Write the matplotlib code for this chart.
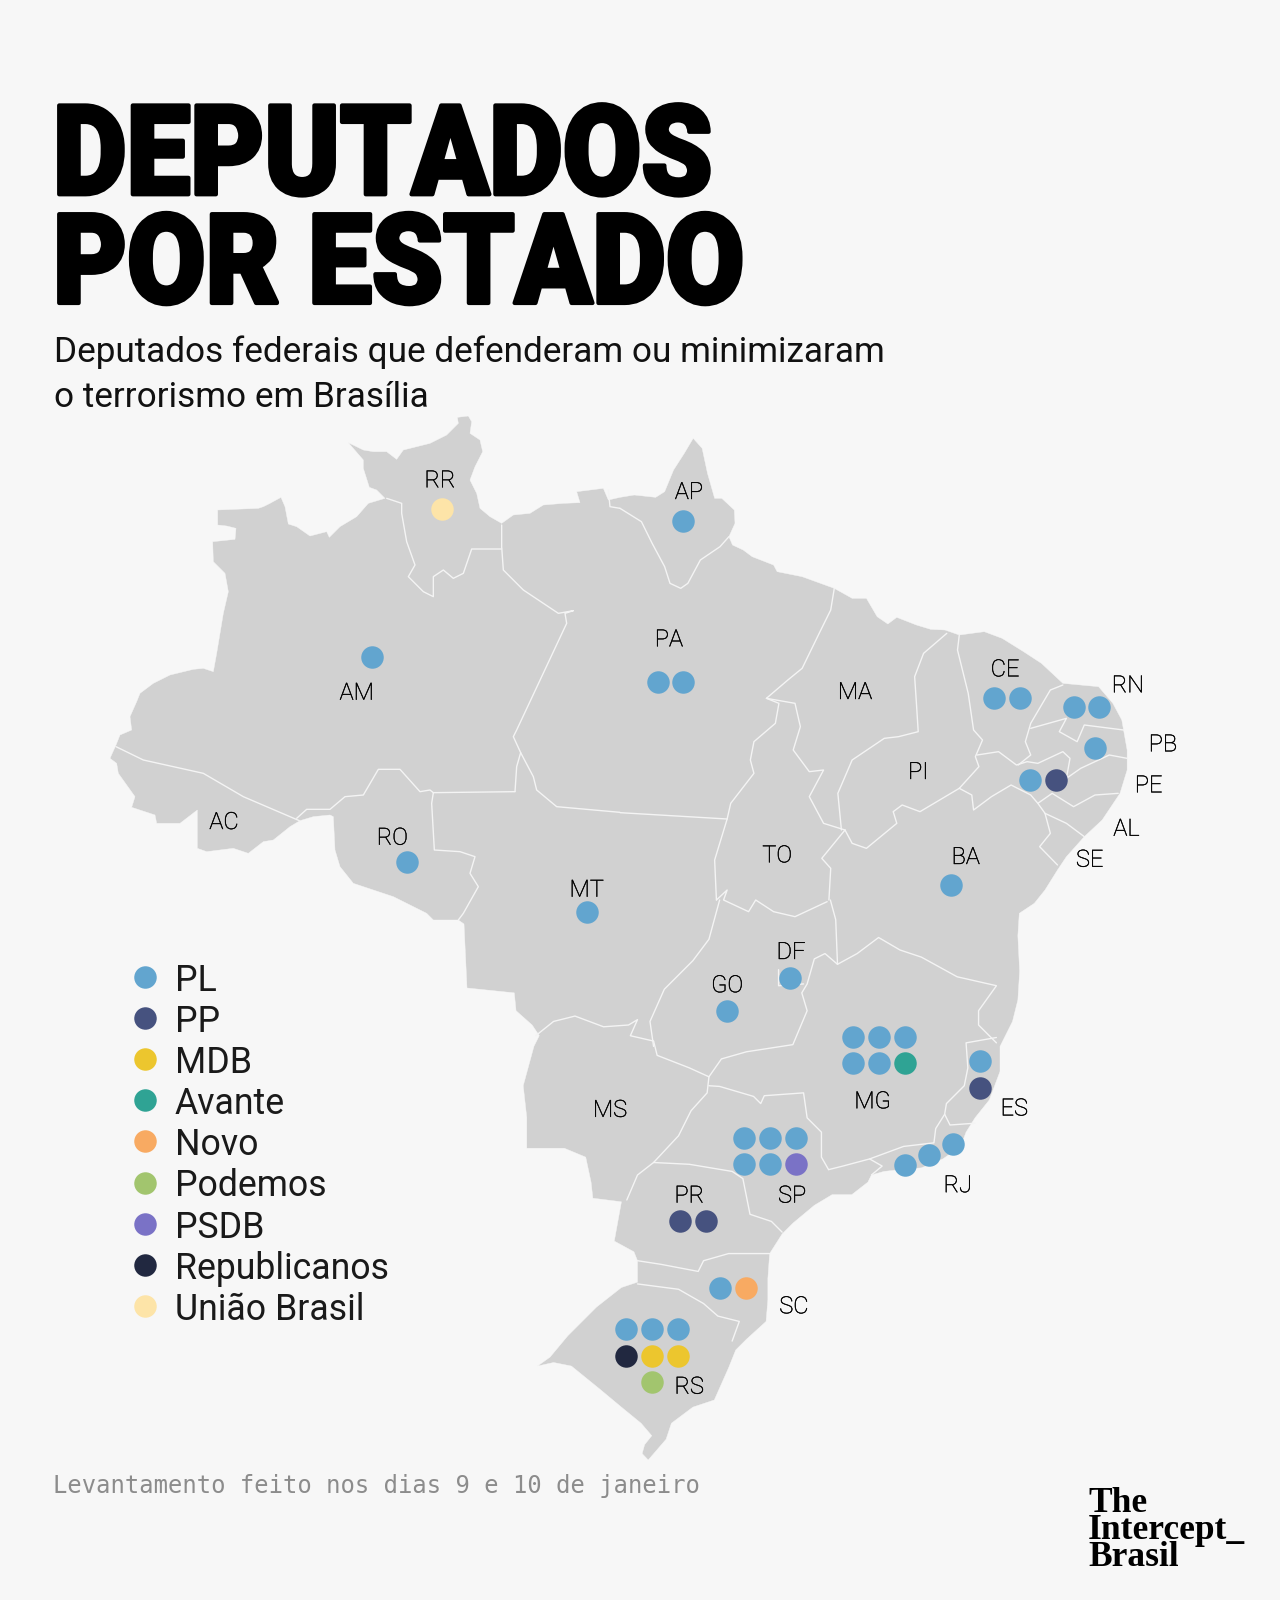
import matplotlib
matplotlib.use("Agg")
import matplotlib.pyplot as plt
from matplotlib.patches import Polygon
from matplotlib.transforms import Affine2D
import matplotlib.patheffects as pe

BG = "#f7f7f7"; LAND = "#d1d1d1"

def z1(p): return [(100 + x / 3, 400 + y / 3) for x, y in p]
def z2(p): return [(620 + x / 2.8, 420 + y / 3) for x, y in p]
def z3(p): return [(500 + x / 2.8, 900 + y / 2.8) for x, y in p]

outline_nw = [(48,1035),(60,1005),(95,990),(90,950),(110,905),(120,880),(160,850),(210,825),(280,808),(310,805),(340,815),(350,760),(370,640),(385,575),(375,520),(340,485),(338,425),(405,418),(408,385),(380,378),(353,375),(353,330),(475,325),(490,320),(510,310),(543,292),(555,320),(565,372),(590,380),(630,408),(680,395),(688,412),(720,380),(770,350),(805,310),(855,295),(830,270),(808,262),(790,205),(790,180),(745,128),(790,150),(820,155),(860,155),(890,178),(910,150),(990,130),(1040,105),(1075,70),(1072,52),(1105,48),(1115,65),(1110,100),(1140,120),(1148,155),(1125,200),(1110,240),(1130,280),(1140,325),(1170,350),(1205,370),(1240,345),(1290,340),(1330,315),(1390,310),(1440,308),(1430,275),(1510,265),(1525,300)]
outline_ne = [(0,232),(40,225),(100,232),(125,215),(150,150),(180,100),(205,55),(230,85),(245,160),(265,235),(285,235),(320,270),(322,310),(305,350),(315,375),(345,390),(370,410),(430,435),(440,455),(510,470),(600,505),(650,535),(690,535),(720,590),(750,612),(775,592),(830,615),(870,628),(910,630),(950,645),(1020,635),(1070,655),(1130,695),(1180,730),(1240,790),(1340,800),(1380,850),(1405,900),(1420,990),(1420,1050),(1400,1120),(1350,1200),(1300,1250),(1250,1310),(1225,1350),(1190,1410),(1160,1450),(1118,1480)]
outline_s = [(1450,100),(1455,200),(1450,280),(1435,340),(1400,410),(1400,480),(1370,560),(1330,610),(1305,650),(1290,690),(1240,725),(1180,750),(1120,755),(1075,760),(1040,770),(1030,790),(985,825),(930,825),(880,855),(820,905),(790,935),(755,990),(750,1060),(750,1120),(745,1180),(690,1230),(660,1260),(640,1310),(600,1400),(540,1420),(480,1465),(465,1510),(415,1568),(398,1550),(405,1525),(425,1500),(395,1465),(340,1420),(280,1370),(200,1305),(150,1295),(105,1305),(140,1280),(190,1220),(270,1140),(340,1085),(385,1070),(385,1010),(375,985),(320,955),(340,845),(260,835),(255,790),(240,720),(180,695),(75,695),(75,610),(65,520),(95,410),(110,380),(90,350),(45,310),(40,260)]
outline_mt = [(467,988),(464,924)]
outline_w = [(1075,1560),(1000,1560),(980,1540),(880,1490),(820,1470),(760,1450),(720,1400),(705,1350),(700,1250),(690,1245),(640,1250),(600,1262),(570,1280),(520,1320),(490,1325),(445,1360),(400,1345),(320,1355),(292,1345),(292,1230),(240,1270),(170,1270),(165,1245),(95,1222),(105,1190),(55,1120),(50,1090),(30,1075)]

borders_1 = [
    [(48,1040),(130,1080),(310,1120),(430,1190),(598,1262)],
    [(590,1255),(620,1228),(690,1228),(735,1190),(790,1185),(835,1108),(900,1108),(960,1175),(990,1170),(1000,1178)],
    [(1000,1178),(1245,1175)],
    [(1245,1175),(1250,1100),(1262,1058),(1240,1010),(1250,990),(1400,670),(1395,640),(1420,632),(1375,640),(1330,610),(1270,570),(1210,510),(1205,440),(1205,375)],
    [(1205,447),(1115,447),(1090,520),(1060,535),(1030,510),(1000,530),(1000,590),(970,575),(925,530),(945,495),(920,425),(905,340),(905,310),(860,295)],
    [(1000,1178),(995,1210),(1003,1350),(1080,1355),(1125,1370),(1110,1420),(1135,1460),(1090,1540),(1075,1560)],
    [(1262,1058),(1300,1130),(1310,1170),(1370,1220),(1560,1237)],
    [(1525,270),(1530,320),(1560,325)],
]
borders_2 = [
    [(0,1178),(300,1197)],
    [(0,265),(60,305),(90,370),(125,440),(140,490),(170,505),(190,490),(225,420),(280,380),(305,350)],
    [(600,505),(590,570),(560,635),(510,745),(470,780),(410,835)],
    [(410,835),(445,850),(435,910),(375,965),(365,1020),(375,1060),(310,1150),(300,1197),(265,1320),(270,1440)],
    [(410,835),(490,850),(505,920),(485,990),(530,1055),(570,1050),(545,1100),(530,1130),(570,1210),(630,1230)],
    [(915,640),(850,700),(825,770),(830,850),(835,935),(780,950),(740,955),(650,1020),(610,1120),(620,1230)],
    [(950,645),(945,690),(975,820),(990,930),(1015,960),(995,1010),(1005,1040),(950,1105)],
    [(950,1105),(840,1175),(790,1155),(765,1175),(775,1210),(690,1285),(650,1270),(630,1230)],
    [(630,1230),(565,1315),(590,1345),(585,1440)],
    [(270,1440),(300,1410),(290,1440),(360,1475),(380,1440),(430,1475),(490,1490),(580,1445)],
    [(1000,1005),(1060,995),(1110,1035),(1140,1025),(1170,1030),(1240,995),(1260,1015),(1250,1075),(1290,1045),(1370,1005),(1420,1015)],
    [(1240,795),(1205,810),(1150,910),(1135,965),(1150,1005),(1115,1035)],
    [(1150,925),(1200,910),(1250,895),(1230,935),(1280,965),(1300,915),(1410,930)],
    [(950,1105),(985,1125),(990,1170),(1040,1130),(1095,1095),(1150,1125),(1170,1150),(1210,1120),(1270,1160),(1330,1125),(1395,1120)],
    [(1170,1150),(1190,1180),(1250,1210),(1300,1250)],
    [(1190,1180),(1205,1240),(1175,1280),(1225,1335)],
]
borders_3 = [
    [(615,0),(585,110),(540,170),(460,250),(420,340),(430,410)],
    [(100,380),(150,340),(210,325),(290,355),(360,350),(385,335),(365,380),(430,395)],
    [(430,395),(440,435),(530,470),(585,495)],
    [(585,495),(620,445),(690,425),(820,405),(860,310),(845,260),(860,235),(880,165),(910,150),(945,180)],
    [(780,195),(780,240),(850,235)],
    [(925,0),(940,55),(945,180)],
    [(945,180),(1000,150),(1060,105),(1120,140),(1180,160),(1280,215),(1390,240),(1340,310),(1340,350),(1390,400)],
    [(1390,385),(1305,400),(1310,470),(1300,520),(1250,570),(1245,600)],
    [(1245,600),(1260,630),(1330,625)],
    [(1245,600),(1220,640),(1215,680),(1130,690),(1035,725),(960,745),(920,755)],
    [(585,520),(615,522),(710,550),(730,570),(740,548),(850,540),(860,610),(900,650),(900,720),(920,755)],
    [(585,495),(580,540),(535,590),(500,660),(430,735)],
    [(430,735),(385,770),(355,840)],
    [(430,735),(530,740),(650,760),(680,780),(700,880),(760,900),(790,930)],
    [(1035,725),(1070,745),(1040,770)],
    [(385,1010),(450,1020),(555,1040),(570,1010),(640,990),(755,990)],
    [(385,1075),(500,1090),(570,1130),(610,1165),(670,1180),(650,1235)],
]

PARTIES = ["PL","PP","MDB","Avante","Novo","Podemos","PSDB","Republicanos","União Brasil"]
PARTY_COLORS = ["#62a5cf","#46527f","#ecc62e","#2fa394","#f8aa62","#a2c56e","#7a72c6","#212840","#fde4a8"]

dots_1 = [("União Brasil",1027,328),("PL",817,772),("PL",920,1386),("PL",1460,1535)]
dots_2 = [("PL",177,303),("PL",105,785),("PL",177,785),("PL",1047,835),("PL",1120,835),
          ("PL",1270,862),("PL",1342,862),("PL",1330,983),("PL",1148,1080),("PP",1221,1080),("PL",926,1395)]
dots_3 = [("PL",636,310),("PL",813,218),
          ("PL",989,383),("PL",1061,383),("PL",1135,383),("PL",989,457),("PL",1061,457),("Avante",1135,457),
          ("PL",1345,451),("PP",1345,525),("PL",1268,683),("PL",1200,713),("PL",1134,742),
          ("PL",684,666),("PL",757,666),("PL",830,666),("PL",684,740),("PL",757,740),("PSDB",830,740),
          ("PP",505,898),("PP",578,898),("PL",617,1086),("Novo",690,1086),
          ("PL",353,1202),("PL",425,1202),("PL",498,1202),("Republicanos",353,1276),("MDB",425,1276),("MDB",498,1276),("Podemos",425,1350)]

labels_1 = [("RR",1020,235),("AM",770,872),("AC",372,1260),("RO",877,1307),("MT",1460,1463)]
labels_2 = [("AP",193,210),("PA",137,652),("CE",1078,742),("RN",1422,790),("PB",1520,967),("PE",1480,1090),
            ("AL",1418,1220),("SE",1315,1313),("MA",658,810),("PI",835,1050),("TO",440,1300),("BA",968,1305)]
labels_3 = [("DF",815,140),("GO",636,233),("MS",308,582),("MG",1043,558),("ES",1440,578),("RJ",1282,793),
            ("SP",818,822),("PR",530,822),("SC",823,1132),("RS",530,1357)]

TITLE = "DEPUTADOS\nPOR ESTADO"
SUBTITLE_LINES = ["Deputados federais que defenderam ou minimizaram","o terrorismo em Brasília"]
FOOTNOTE = "Levantamento feito nos dias 9 e 10 de janeiro"
LOGO = "The\nIntercept_\nBrasil"


class CondensedStroke(pe.Stroke):
    """Stroke that also narrows the glyphs horizontally around a left edge given in pixels."""
    def __init__(self, x0, sx, **kwargs):
        super().__init__(**kwargs)
        self._x0, self._sx = x0, sx

    def draw_path(self, renderer, gc, tpath, affine, rgbFace=None):
        squeeze = Affine2D().translate(-self._x0, 0).scale(self._sx, 1).translate(self._x0, 0)
        super().draw_path(renderer, gc, tpath, affine + squeeze, rgbFace)


fig = plt.figure(figsize=(12.8, 16), dpi=100, facecolor=BG)
ax = fig.add_axes([0, 0, 1, 1])
ax.set_xlim(0, 1280); ax.set_ylim(1600, 0); ax.axis("off")

outline = z1(outline_nw) + z2(outline_ne) + z3(outline_s) + outline_mt + z1(outline_w)
ax.add_patch(Polygon(outline, closed=True, fc=LAND, ec=BG, lw=0.3, zorder=1))
for conv, group in ((z1, borders_1), (z2, borders_2), (z3, borders_3)):
    for line in group:
        pts = conv(line)
        ax.plot([p[0] for p in pts], [p[1] for p in pts], color="#f4f4f4", lw=1.0, zorder=2,
                solid_joinstyle="round", solid_capstyle="round")

color_of = dict(zip(PARTIES, PARTY_COLORS))
for conv, group in ((z1, dots_1), (z2, dots_2), (z3, dots_3)):
    for party, x, y in group:
        (px, py), = conv([(x, y)])
        ax.scatter([px], [py], s=262, color=color_of[party], lw=0, zorder=3)

LF = "Roboto"
for conv, group in ((z1, labels_1), (z2, labels_2), (z3, labels_3)):
    for name, x, y in group:
        (px, py), = conv([(x, y)])
        ax.text(px, py, name, ha="center", va="center_baseline", family=LF, weight="light", fontsize=17, color="#000000", zorder=4,
                path_effects=[pe.withStroke(linewidth=0.3, foreground="#000000")])

for i, (party, col) in enumerate(zip(PARTIES, PARTY_COLORS)):
    y = 977 + i * 41.1
    ax.scatter([145], [y], s=262, color=col, lw=0, zorder=3)
    ax.text(175, y, party, va="center_baseline", family=LF, fontsize=25.7, color="#1a1a1a")

ax.text(53, 303, TITLE, family="Roboto", weight="black", fontsize=90, color="black",
        va="baseline", linespacing=0.90,
        path_effects=[CondensedStroke(53, 0.91, linewidth=3, foreground="black")])
for i, line in enumerate(SUBTITLE_LINES):
    ax.text(54, 362 + i * 45, line, family=LF, fontsize=25.25, color="#111111", va="baseline")
ax.text(53, 1493, FOOTNOTE, family="DejaVu Sans Mono", fontsize=17.2, color="#8c8c8c", va="baseline")
ax.text(1088, 1566, LOGO, family="Liberation Serif", weight="bold", fontsize=25.5, color="black", va="baseline", linespacing=0.75)

fig.savefig("out.png", dpi=100, facecolor=BG)
